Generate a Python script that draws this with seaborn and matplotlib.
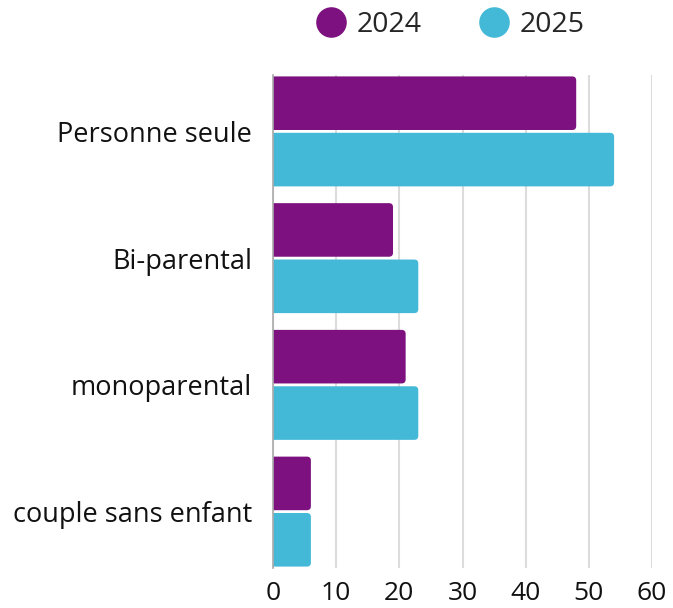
import matplotlib
matplotlib.use("Agg")
import matplotlib.pyplot as plt
import seaborn as sns
import pandas as pd
from matplotlib.patches import FancyBboxPatch
from matplotlib.lines import Line2D

categories = ["Personne seule", "Bi-parental", "monoparental", "couple sans enfant"]
years = ["2024", "2025"]
values_2024 = [48, 19, 21, 6]
values_2025 = [54, 23, 23, 6]
xticks = [0, 10, 20, 30, 40, 50, 60]
colors = ["#7c117f", "#43b9d7"]

df = pd.DataFrame({
    "cat": categories * 2,
    "year": [years[0]] * 4 + [years[1]] * 4,
    "val": values_2024 + values_2025,
})

sns.set_theme(style="white")
plt.rcParams["font.family"] = ["Open Sans", "DejaVu Sans"]

fig = plt.figure(figsize=(6.73, 6.08), dpi=100)
ax = fig.add_axes([273/673, 1-568/608, (652-273)/673, (568-75)/608])

sns.barplot(data=df, y="cat", x="val", hue="year", order=categories,
            hue_order=years, palette=colors, orient="h", width=0.89,
            gap=0.05, ax=ax, legend=False, errorbar=None, saturation=1)

# rounded right ends
xpx = (652-273)/60.0
ypx = 127.0
rad = 4.0
patches = list(ax.patches)
for p in patches:
    x, y = p.get_x(), p.get_y()
    w, h = p.get_width(), p.get_height()
    fc = p.get_facecolor()
    p.remove()
    fb = FancyBboxPatch((x - 2, y), w + 2, h,
                        boxstyle=f"round,pad=0,rounding_size={rad/xpx}",
                        mutation_aspect=(xpx/ypx),
                        facecolor=fc, edgecolor="none", zorder=2)
    ax.add_patch(fb)

ax.set_xlim(0, 60)
ax.set_ylim(3 + 0.445, -0.445)
ax.set_xticks(xticks)
ax.set_xticklabels([str(t) for t in xticks])
ax.set_xlabel("")
ax.set_ylabel("")
ax.grid(axis="x", color="#dcdcdc", linewidth=1.5, zorder=0)
ax.set_axisbelow(True)
for s in ["top", "right", "bottom"]:
    ax.spines[s].set_visible(False)
ax.spines["left"].set_color("#aaaaaa")
ax.spines["left"].set_linewidth(1.2)
ax.tick_params(axis="x", length=0, pad=9, labelsize=19, labelcolor="#111111")
ax.tick_params(axis="y", length=0, pad=15, labelsize=19.5, labelcolor="#111111")

handles = [Line2D([], [], marker="o", linestyle="", markersize=21,
                  markerfacecolor=c, markeredgecolor=c) for c in colors]
fig.legend(handles, years, loc="center", bbox_to_anchor=(450/673, 1-25/608),
           ncol=2, frameon=False, fontsize=20.5, handletextpad=0.35,
           columnspacing=2.0, handlelength=1.1)

fig.savefig("out.png", dpi=100)
